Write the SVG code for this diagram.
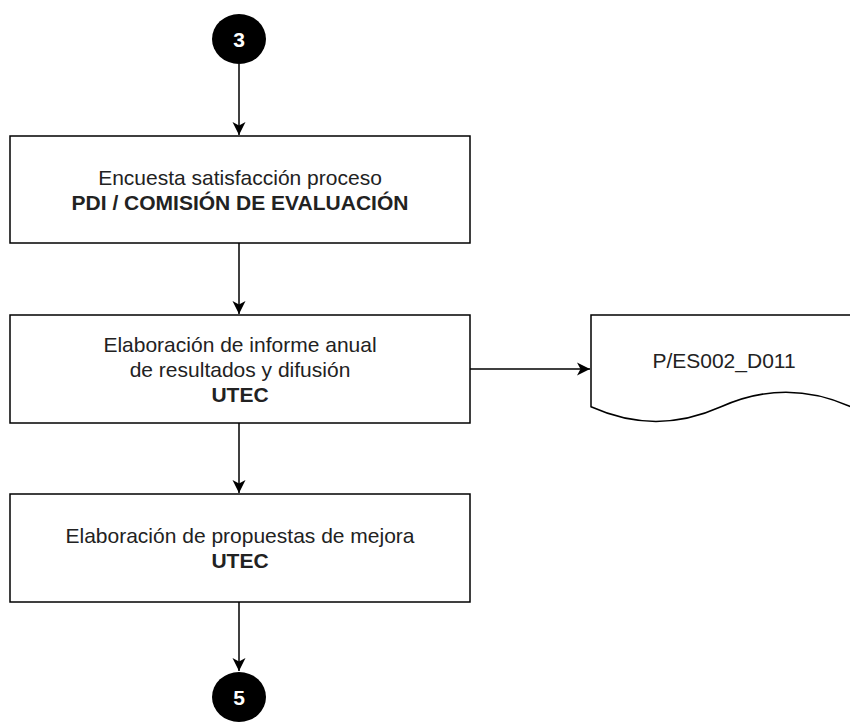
<svg xmlns="http://www.w3.org/2000/svg" width="850" height="724" viewBox="0 0 850 724">
<style>
.box{fill:#fff;stroke:#000;stroke-width:1.5}
.t{font-family:"Liberation Sans",Arial,sans-serif;font-size:21px;fill:#222;text-anchor:middle}
.b{font-weight:bold}
.c{fill:#000}
.n{font-family:"Liberation Sans",Arial,sans-serif;font-size:21px;font-weight:bold;fill:#fff;text-anchor:middle}
.e{fill:none;stroke:#000;stroke-width:1.5}
</style>
<defs>
<marker id="ah" markerUnits="userSpaceOnUse" markerWidth="14" markerHeight="14" viewBox="0 0 14 14" refX="13" refY="7" orient="auto">
<path d="M0,0.5 L13,7 L0,13.5 L3.5,7 Z" fill="#000"/>
</marker>
</defs>
<rect width="850" height="724" fill="#fff"/>
<g id="connectors">
<path class="e" d="M239,64 V135" marker-end="url(#ah)"/>
<path class="e" d="M239,243 V314" marker-end="url(#ah)"/>
<path class="e" d="M239,423 V493" marker-end="url(#ah)"/>
<path class="e" d="M239,602 V671" marker-end="url(#ah)"/>
<path class="e" d="M470,369 H590" marker-end="url(#ah)"/>
</g>
<g id="c3">
<ellipse class="c" cx="239" cy="39" rx="27" ry="25"/>
<text class="n" x="239" y="46.5">3</text>
</g>
<g id="n1">
<rect class="box" x="10" y="136" width="460" height="107"/>
<text class="t" x="240" y="184.5">Encuesta satisfacción proceso</text>
<text class="t b" x="240" y="210">PDI / COMISIÓN DE EVALUACIÓN</text>
</g>
<g id="n2">
<rect class="box" x="10" y="315" width="460" height="108"/>
<text class="t" x="240" y="351.5">Elaboración de informe anual</text>
<text class="t" x="240" y="376.5">de resultados y difusión</text>
<text class="t b" x="240" y="401.5">UTEC</text>
</g>
<g id="doc">
<path class="box" d="M591,315 H851 V406.8 Q786,377.6 721,406.8 Q656,436 591,406.8 Z"/>
<text class="t" x="724" y="368">P/ES002_D011</text>
</g>
<g id="n3">
<rect class="box" x="10" y="494" width="460" height="108"/>
<text class="t" x="240" y="543">Elaboración de propuestas de mejora</text>
<text class="t b" x="240" y="568">UTEC</text>
</g>
<g id="c5">
<ellipse class="c" cx="239" cy="697" rx="27" ry="25"/>
<text class="n" x="239" y="704.5">5</text>
</g>
</svg>
